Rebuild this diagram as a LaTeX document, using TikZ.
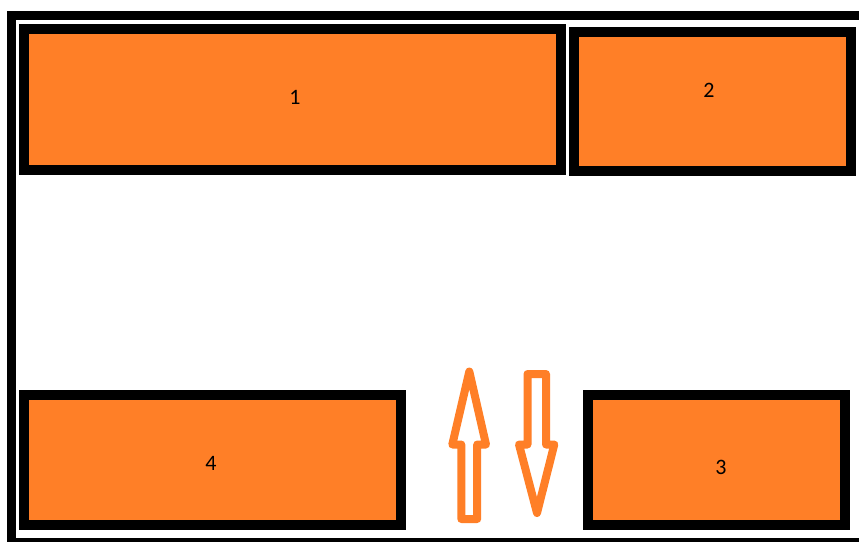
\documentclass[tikz,border=0pt]{standalone}
\usepackage{fontspec}
\setmainfont{Carlito}
\definecolor{paintorange}{RGB}{255,127,39}
\tikzset{
  roombox/.style={draw=black, fill=paintorange, line width=10pt, rectangle, inner sep=0pt},
  numlabel/.style={font=\fontsize{22}{24}\selectfont, text=black, inner sep=0pt},
  flowarrow/.style={draw=paintorange, line width=8pt, line join=round},
  frameline/.style={draw=black, line width=9pt}
}
\begin{document}
\begin{tikzpicture}[x=1pt, y=-1pt]
\useasboundingbox (0,0) rectangle (859,541);
\clip (0,0) rectangle (859,541);
\fill[white] (0,0) rectangle (859,541);
% outer frame
\draw[frameline] (11.5,560) -- (11.5,15.5) -- (880,15.5);
\draw[frameline] (11.5,542) -- (880,542);
% boxes
\node[roombox, minimum width=537pt, minimum height=141pt] (b1) at (292.5,99.5) {};
\node[roombox, minimum width=277pt, minimum height=139pt] (b2) at (712.5,101) {};
\node[roombox, minimum width=377pt, minimum height=130pt] (b4) at (212.5,460) {};
\node[roombox, minimum width=257pt, minimum height=130pt] (b3) at (716.5,460) {};
% labels
\node[numlabel] (l1) at (295,97) {1};
\node[numlabel] (l2) at (709,90) {2};
\node[numlabel] (l4) at (211,463) {4};
\node[numlabel] (l3) at (721,467) {3};
% arrows
\draw[flowarrow] (461.3,519) -- (461.3,444.5) -- (452.3,444.5) -- (469.3,371.5) -- (486,444.5) -- (477.2,444.5) -- (477.2,519) -- cycle;
\draw[flowarrow] (527.5,374) -- (546,374) -- (546,444.5) -- (554.3,444.5) -- (537,513) -- (519,444.5) -- (527.5,444.5) -- cycle;
\end{tikzpicture}
\end{document}
